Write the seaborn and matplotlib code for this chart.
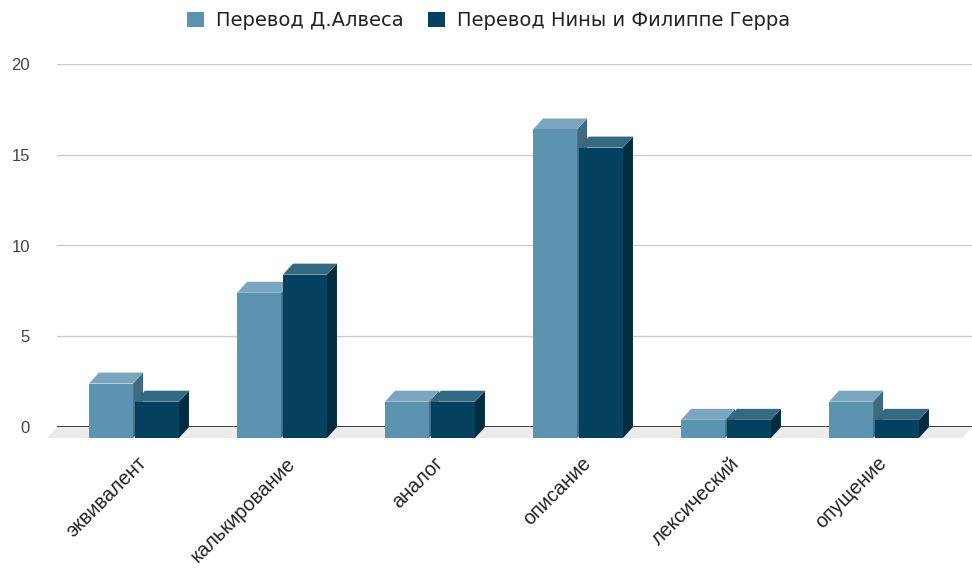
import matplotlib
matplotlib.use("Agg")
import matplotlib.pyplot as plt
import seaborn as sns
import pandas as pd
from matplotlib.patches import Polygon, Patch

categories = ["эквивалент", "калькирование", "аналог", "описание", "лексический", "опущение"]
series_names = ["Перевод Д.Алвеса", "Перевод Нины и Филиппе Герра"]
alves = [3, 8, 2, 17, 1, 2]
guerra = [2, 9, 2, 16, 1, 1]
y_ticks = [0, 5, 10, 15, 20]

front_colors = ["#5b93b0", "#03415e"]
top_colors = ["#7aa7bf", "#336a82"]
side_colors = ["#3f6a80", "#012c40"]

df = pd.DataFrame({
    "category": categories * 2,
    "value": alves + guerra,
    "series": [series_names[0]] * len(categories) + [series_names[1]] * len(categories),
})

sns.set_theme(style="white")
plt.rcParams["font.family"] = ["Liberation Sans", "DejaVu Sans"]

W, H = 972, 571
fig = plt.figure(figsize=(W / 100, H / 100), dpi=100)
left_px, right_px, top_px, zero_px = 57, 972, 64, 427
ax = fig.add_axes([left_px / W, (H - zero_px) / H, (right_px - left_px) / W, (zero_px - top_px) / H])

sns.barplot(data=df, x="category", y="value", hue="series", palette=front_colors,
            saturation=1, width=0.62, gap=0.04, ax=ax, legend=False, order=categories)

spacing_px = 148.0
first_center_px = 144.0
x0 = (left_px - first_center_px) / spacing_px
x1 = (right_px - first_center_px) / spacing_px
ax.set_xlim(x0, x1)
ax.set_ylim(0, 20)

px_x = (right_px - left_px) / (x1 - x0)
px_y = (zero_px - top_px) / 20.0
dxd = 10.0 / px_x
dyd = 11.0 / px_y

# floor
floor = Polygon([(x0, 0), (x1, 0), (x1 - dxd, -dyd), (x0 - dxd, -dyd)], closed=True,
                facecolor="#ebebeb", edgecolor="none", clip_on=False, zorder=0.5)
ax.add_patch(floor)
ax.axhline(0, color="#333333", lw=1.3, zorder=1)

# 3D bars
for si, cont in enumerate(ax.containers):
    for ci, rect in enumerate(cont):
        bx = rect.get_x()
        bw = rect.get_width()
        bh = rect.get_height()
        z = 2 + ci * 2 + si * 0.5
        side = Polygon([(bx + bw, bh), (bx + bw, 0), (bx + bw - dxd, -dyd), (bx + bw - dxd, bh - dyd)],
                       closed=True, facecolor=side_colors[si], edgecolor="none", clip_on=False, zorder=z)
        top = Polygon([(bx, bh), (bx + bw, bh), (bx + bw - dxd, bh - dyd), (bx - dxd, bh - dyd)],
                      closed=True, facecolor=top_colors[si], edgecolor="none", clip_on=False, zorder=z)
        ax.add_patch(side)
        ax.add_patch(top)
        rect.set_x(bx - dxd)
        rect.set_y(-dyd)
        rect.set_height(bh)
        rect.set_clip_on(False)
        rect.set_zorder(z + 0.1)
        rect.set_edgecolor("none")

ax.set_yticks(y_ticks)
ax.set_yticklabels([str(v) for v in y_ticks])
ax.yaxis.grid(True, color="#cccccc", lw=1)
ax.set_axisbelow(True)
for s in ax.spines.values():
    s.set_visible(False)
ax.tick_params(axis="y", length=0, pad=19.5, labelsize=12, labelcolor="#444444")
ax.set_xticks(range(len(categories)))
ax.set_xticklabels(categories, rotation=45, ha="right", rotation_mode="anchor", va="center")
ax.tick_params(axis="x", length=0, pad=24, labelsize=14.3, labelcolor="#222222")
ax.set_xlabel("")
ax.set_ylabel("")

handles = [Patch(facecolor=front_colors[0], edgecolor="none"), Patch(facecolor=front_colors[1], edgecolor="none")]
fig.legend(handles, series_names, loc="center", bbox_to_anchor=(0.503, 1 - 21 / H), ncol=2,
           frameon=False, handlelength=0.85, handleheight=0.8, handletextpad=0.65, columnspacing=1.25,
           prop={"family": ["DejaVu Sans"], "size": 14}, labelcolor="#222222")

fig.savefig("out.png", dpi=100)
